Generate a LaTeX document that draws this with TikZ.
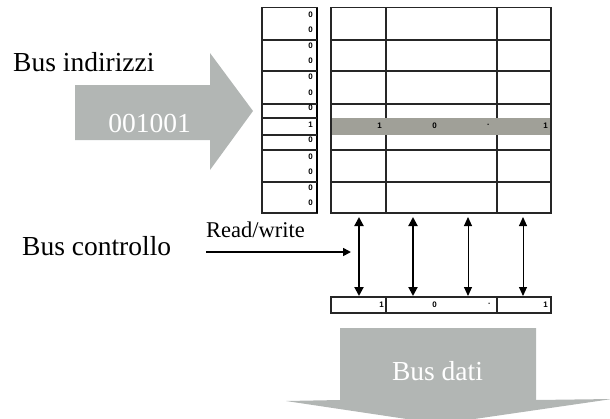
\documentclass[tikz,border=0pt]{standalone}
\usepackage{fontspec}
\setmainfont{Liberation Serif}
\newfontfamily\cellfont{Liberation Sans}
\usetikzlibrary{arrows.meta}
\definecolor{busgray}{RGB}{178,182,180}
\definecolor{bandgray}{RGB}{160,160,152}
\tikzset{
  biglabel/.style={inner sep=0pt, anchor=base west, font=\fontsize{27.5}{30}\selectfont},
  arrowtext/.style={inner sep=0pt, anchor=base, text=white, font=\fontsize{27.5}{30}\selectfont},
  cellval/.style={inner sep=0pt, anchor=east, font=\cellfont\bfseries\fontsize{8}{9}\selectfont},
  gridline/.style={draw=black!85, line width=1.1pt},
  busarrow/.style={fill=busgray, draw=none},
  thickbi/.style={line width=2pt, {Triangle[length=9pt,width=9pt]}-{Triangle[length=9pt,width=9pt]}},
  thinbi/.style={line width=1pt, {Triangle[length=9pt,width=8pt]}-{Triangle[length=9pt,width=8pt]}},
  ctrlarrow/.style={line width=1.6pt, -{Triangle[length=8pt,width=8pt]}}
}
\begin{document}
\begin{tikzpicture}[x=1pt,y=-1pt]
\useasboundingbox (0,0) rectangle (610,418);
\begin{scope}
\clip (0,0) rectangle (610,418);
% address bus arrow
\path[busarrow] (75,85) -- (210,85) -- (210,53) -- (253,111) -- (210,170) -- (210,140) -- (75,140) -- cycle;
% data bus arrow
\path[busarrow] (340,328) -- (536,328) -- (536,400) -- (612,399) -- (440,424) -- (286,401) -- (340,400) -- cycle;
\end{scope}
\node[arrowtext] (addr) at (149.5,132) {001001};
\node[arrowtext] (dati) at (437.5,380) {Bus dati};
\node[biglabel] (busind) at (13,71) {Bus indirizzi};
\node[biglabel] (busctl) at (22,255) {Bus controllo};
\node[inner sep=0pt, anchor=base west, font=\fontsize{22.5}{24}\selectfont] (rw) at (206,237) {Read/write};

% gray selected row
\path[fill=bandgray] (331,118) rectangle (551,135);

% address column
\draw[gridline] (262,7.5) rectangle (317,213);
\draw[line width=1.8pt] (317,7.5) -- (317,213);
\foreach \y in {40,71,104,118,135,150,182}
  \draw[gridline] (262,\y) -- (317,\y);
\foreach \y in {15,30,46,61,77,93,108,140,157,172,188,203}
  \node[cellval] at (313,\y) {0};
\node[cellval] (one) at (313,125) {1};

% memory grid
\draw[gridline] (331,7.5) rectangle (551,213);
\foreach \x in {386,497}
  \draw[gridline] (\x,7.5) -- (\x,118) (\x,135) -- (\x,213);
\foreach \y in {40,71,104,150,182}
  \draw[gridline] (331,\y) -- (551,\y);
\node[cellval] at (382,126) {1};
\node[cellval] at (437,126) {0};
\node[cellval] at (490,126) {·};
\node[cellval] at (548,126) {1};

% data register
\draw[gridline] (331,297) rectangle (551,313);
\foreach \x in {386,497}
  \draw[gridline] (\x,297) -- (\x,313);
\node[cellval] at (384,305) {1};
\node[cellval] at (437,305) {0};
\node[cellval] at (491,305) {·};
\node[cellval] at (548,305) {1};

% connector endpoints
\coordinate (t1) at (359,213); \coordinate (b1) at (359,297);
\coordinate (t2) at (413,213); \coordinate (b2) at (413,297);
\coordinate (t3) at (468,213); \coordinate (b3) at (468,297);
\coordinate (t4) at (523,213); \coordinate (b4) at (523,297);
\draw[thickbi, shorten <=4pt, shorten >=1pt] (t1) -- (b1);
\draw[thickbi, shorten <=4pt, shorten >=1pt] (t2) -- (b2);
\draw[thinbi, shorten <=4pt, shorten >=1pt] (t3) -- (b3);
\draw[thinbi, shorten <=4pt, shorten >=1pt] (t4) -- (b4);

\coordinate (rwstart) at (206,252);
\coordinate (rwend) at (351,252);
\draw[ctrlarrow] (rwstart) -- (rwend);
\end{tikzpicture}
\end{document}
